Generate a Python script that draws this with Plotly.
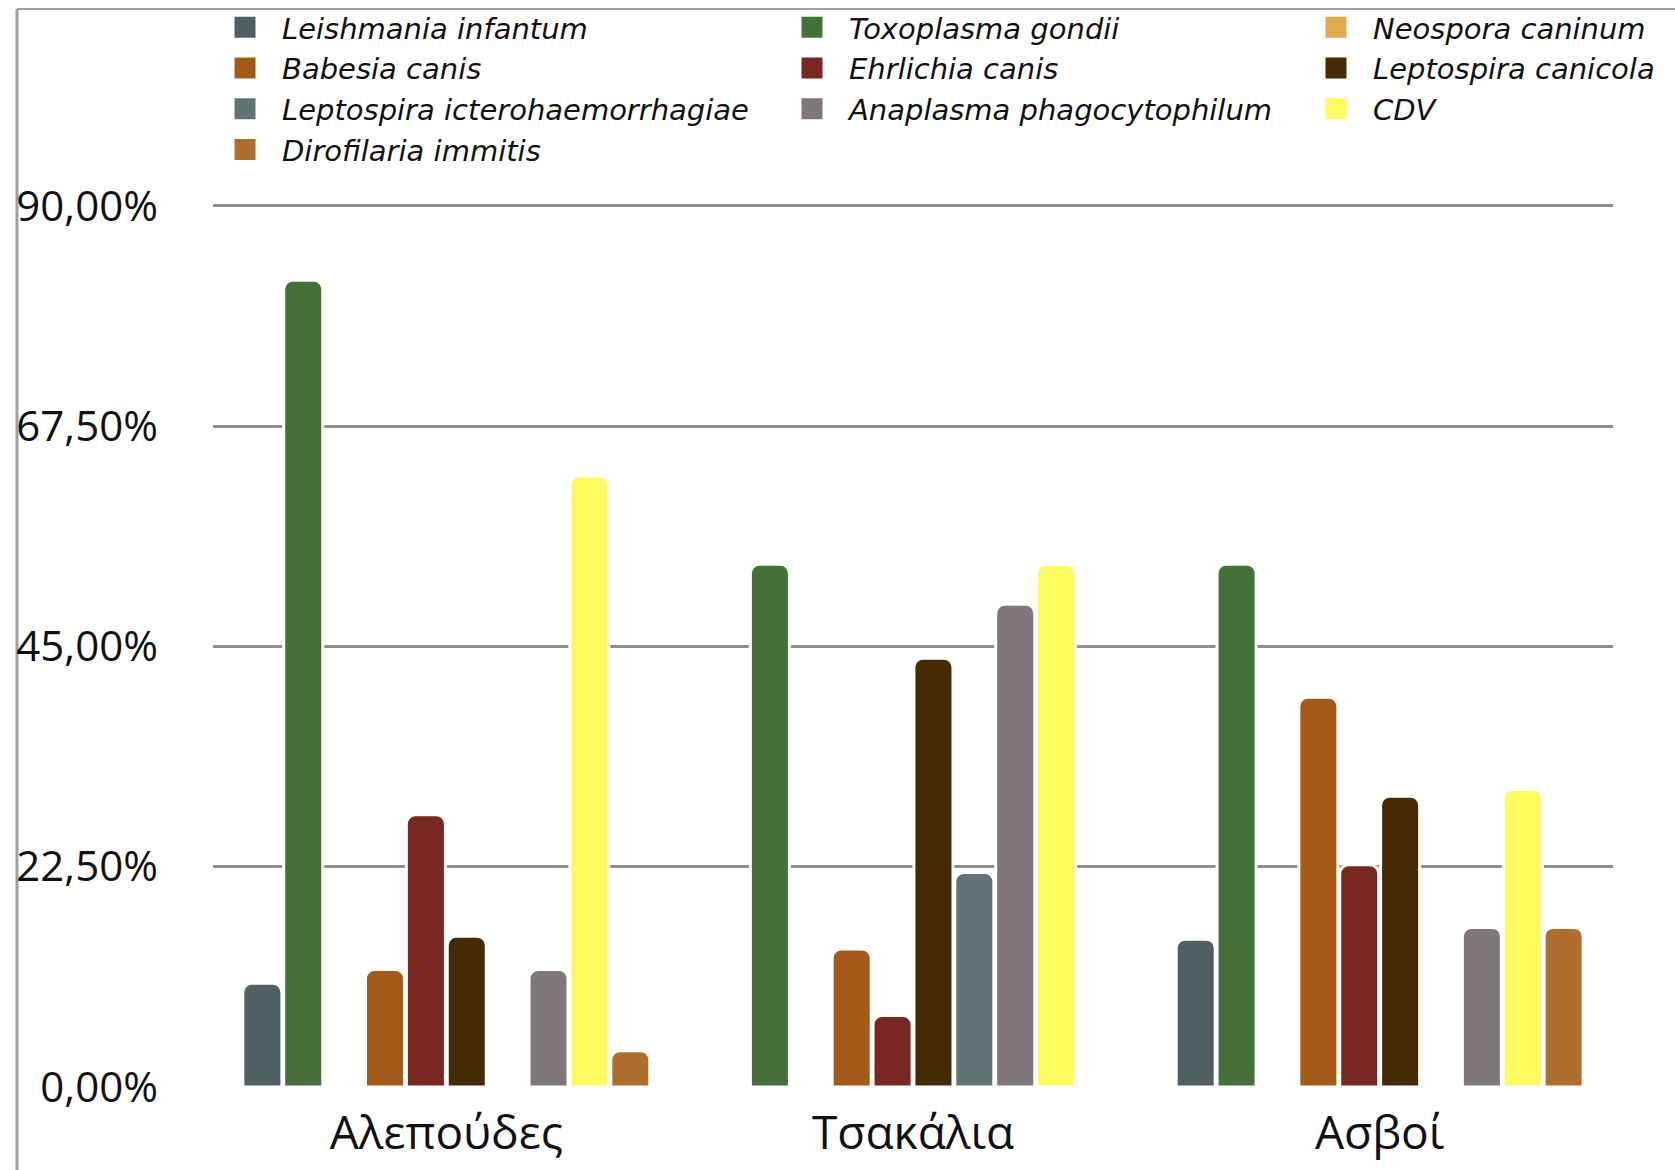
import plotly.graph_objects as go

# Seroprevalence (%) by host species
categories = ["Αλεπούδες", "Τσακάλια", "Ασβοί"]

pathogens = [
    "Leishmania infantum",
    "Toxoplasma gondii",
    "Neospora caninum",
    "Babesia canis",
    "Ehrlichia canis",
    "Leptospira canicola",
    "Leptospira icterohaemorrhagiae",
    "Anaplasma phagocytophilum",
    "CDV",
    "Dirofilaria immitis",
]

leishmania_infantum = [10.6, 0.0, 15.1]
toxoplasma_gondii = [82.4, 53.4, 53.4]
neospora_caninum = [0.0, 0.0, 0.0]
babesia_canis = [12.0, 14.1, 39.8]
ehrlichia_canis = [27.8, 7.3, 22.7]
leptospira_canicola = [15.4, 43.8, 29.7]
leptospira_icterohaemorrhagiae = [0.0, 21.9, 0.0]
anaplasma_phagocytophilum = [12.0, 49.3, 16.3]
cdv = [62.4, 53.4, 30.4]
dirofilaria_immitis = [3.7, 0.0, 16.3]

series_values = [
    leishmania_infantum, toxoplasma_gondii, neospora_caninum,
    babesia_canis, ehrlichia_canis, leptospira_canicola,
    leptospira_icterohaemorrhagiae, anaplasma_phagocytophilum,
    cdv, dirofilaria_immitis,
]

colors = [
    "#4F5F62", "#45703A", "#E0AA50",
    "#A65A1A", "#782820", "#462A06",
    "#637275", "#80777C", "#FEFB60",
    "#B06E2E",
]

y_ticks = [0, 22.5, 45, 67.5, 90]
y_tick_labels = [f"{v:.2f}".replace(".", ",") + "%" for v in y_ticks]

W, H = 1675, 1170
L, R, T, B = 213, 62, 201, 83
PW, PH = W - L - R, H - T - B

def px_x(px):
    return (px - L) / PW

def px_y(py):
    return (H - B - py) / PH

legend_keys = ["legend", "legend2", "legend3"]

fig = go.Figure()

for name, vals, col in zip(pathogens, series_values, colors):
    fig.add_trace(go.Bar(
        x=categories, y=vals, name=name,
        marker=dict(color=col, line=dict(color="white", width=3),
                    cornerradius=9),
        showlegend=False, legendgroup=name,
    ))

# legend swatches, laid out in three columns
for i, (name, col) in enumerate(zip(pathogens, colors)):
    fig.add_trace(go.Scatter(
        x=[None], y=[None], mode="markers", name=name,
        marker=dict(symbol="square", size=16, color=col,
                    line=dict(color=col, width=5)),
        legend=legend_keys[i % 3], legendgroup=name, showlegend=True,
    ))

legend_font = dict(family="DejaVu Sans", size=29, color="#111111", style="italic")
legend_common = dict(
    orientation="v", xanchor="left", yanchor="top",
    bgcolor="rgba(0,0,0,0)", borderwidth=0, font=legend_font,
    itemclick=False, itemdoubleclick=False, tracegroupgap=0,
    itemwidth=64,
)
col_px = [208, 775, 1299]
legend_top = 2
fig.update_layout(
    legend=dict(x=px_x(col_px[0]), y=px_y(legend_top), **legend_common),
    legend2=dict(x=px_x(col_px[1]), y=px_y(legend_top), **legend_common),
    legend3=dict(x=px_x(col_px[2]), y=px_y(legend_top), **legend_common),
)

fig.update_layout(
    width=W, height=H,
    margin=dict(l=L, r=R, t=T, b=B, autoexpand=False),
    paper_bgcolor="white", plot_bgcolor="white",
    barmode="group", bargap=0.124, bargroupgap=0.045,
    barcornerradius=9,
    font=dict(family="Open Sans", color="#111111"),
    xaxis=dict(
        type="category", categoryorder="array", categoryarray=categories,
        showgrid=False, showline=False, zeroline=False, ticks="",
        tickfont=dict(family="Open Sans", size=46, color="#111111"),
        ticklabelstandoff=15,
    ),
    yaxis=dict(
        range=[0, 90.5], tickvals=y_ticks, ticktext=y_tick_labels,
        showgrid=True, gridcolor="#8E8E8E", gridwidth=3,
        zeroline=True, zerolinecolor="rgba(0,0,0,0)",
        showline=False, ticks="",
        tickfont=dict(family="Open Sans", size=42, color="#111111"),
        ticklabelstandoff=54,
    ),
)

# frame lines along the top and left edges
fig.add_shape(type="line", xref="paper", yref="paper",
              x0=px_x(17), x1=px_x(W), y0=px_y(9), y1=px_y(9),
              line=dict(color="#A0A0A0", width=2), layer="below")
fig.add_shape(type="line", xref="paper", yref="paper",
              x0=px_x(17), x1=px_x(17), y0=px_y(9), y1=px_y(H),
              line=dict(color="#A0A0A0", width=3), layer="below")

fig.write_html("out.html")
